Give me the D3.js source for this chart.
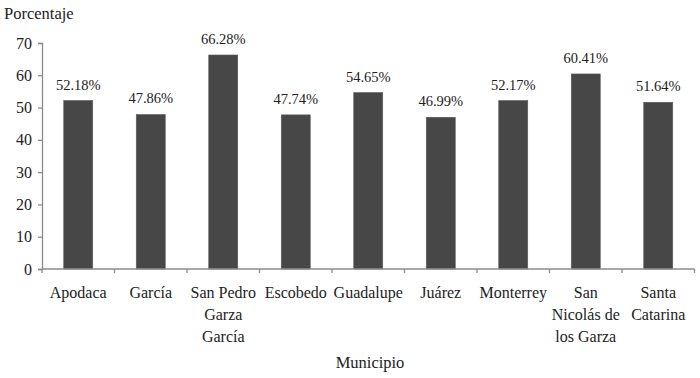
<!DOCTYPE html>
<html>
<head>
<meta charset="utf-8">
<script src="https://cdn.jsdelivr.net/npm/d3@7"></script>
<style>
  body { margin: 0; background: #fff; }
  svg text { font-family: "Liberation Serif", serif; fill: #222; }
</style>
</head>
<body>
<div id="chart"></div>
<script>
// data
const municipios = ["Apodaca", "García", "San Pedro Garza García", "Escobedo", "Guadalupe",
                    "Juárez", "Monterrey", "San Nicolás de los Garza", "Santa Catarina"];
const lineas = [["Apodaca"], ["García"], ["San Pedro", "Garza", "García"], ["Escobedo"], ["Guadalupe"],
                ["Juárez"], ["Monterrey"], ["San", "Nicolás de", "los Garza"], ["Santa", "Catarina"]];
const porcentajes = [52.18, 47.86, 66.28, 47.74, 54.65, 46.99, 52.17, 60.41, 51.64];
const yTicks = [0, 10, 20, 30, 40, 50, 60, 70];

const width = 700, height = 378;
const margin = { left: 42, right: 5, top: 43, bottom: 109 };

const svg = d3.select('#chart').append('svg')
    .attr('width', width)
    .attr('height', height);

const x = d3.scaleBand()
    .domain(municipios)
    .range([margin.left, width - margin.right - 0.5])
    .paddingInner(0.6)
    .paddingOuter(0.3);

const y = d3.scaleLinear()
    .domain([0, 70])
    .range([height - margin.bottom, margin.top]);

const axisColor = '#8c8c8c';

// y axis
const yAxis = svg.append('g')
    .attr('transform', `translate(${margin.left},0)`)
    .call(d3.axisLeft(y).tickValues(yTicks).tickSize(4).tickPadding(6));
yAxis.select('.domain').attr('stroke', axisColor).attr('stroke-width', 1.3);
yAxis.selectAll('.tick line').attr('stroke', axisColor).attr('stroke-width', 1.3);
yAxis.selectAll('.tick text')
    .style('font-size', '16px')
    .style('font-family', '"Liberation Serif", serif')
    .attr('fill', '#222');

// bars
svg.selectAll('rect.bar')
    .data(porcentajes)
    .join('rect')
    .attr('class', 'bar')
    .attr('x', (d, i) => x(municipios[i]))
    .attr('width', x.bandwidth())
    .attr('y', d => y(d))
    .attr('height', d => y(0) - y(d))
    .attr('fill', '#474747')
    .attr('stroke', '#5a5a5a')
    .attr('stroke-width', 0.6);

// value labels
svg.selectAll('text.val')
    .data(porcentajes)
    .join('text')
    .attr('class', 'val')
    .attr('x', (d, i) => x(municipios[i]) + x.bandwidth() / 2)
    .attr('y', d => y(d) - 11)
    .attr('text-anchor', 'middle')
    .style('font-size', '14.5px')
    .text(d => d.toFixed(2) + '%');

// x axis with category boundary ticks
const step = x.step();
const x0 = x(municipios[0]) - x.paddingOuter() * step;
const y0 = y(0);
svg.append('line')
    .attr('x1', x0).attr('x2', x0 + step * municipios.length)
    .attr('y1', y0).attr('y2', y0)
    .attr('stroke', axisColor).attr('stroke-width', 1.3);
svg.selectAll('line.xtick')
    .data(d3.range(municipios.length + 1))
    .join('line')
    .attr('class', 'xtick')
    .attr('x1', i => x0 + i * step).attr('x2', i => x0 + i * step)
    .attr('y1', y0).attr('y2', y0 + 4)
    .attr('stroke', axisColor).attr('stroke-width', 1.3);

const xLabels = svg.selectAll('text.cat')
    .data(municipios)
    .join('text')
    .attr('class', 'cat')
    .attr('text-anchor', 'middle')
    .style('font-size', '16px');
xLabels.each(function (d, i) {
    d3.select(this).selectAll('tspan')
        .data(lineas[i])
        .join('tspan')
        .attr('x', x(d) + x.bandwidth() / 2)
        .attr('y', (l, j) => y0 + 29 + j * 22)
        .text(l => l);
});

// axis titles
svg.append('text')
    .attr('x', 4).attr('y', 19)
    .style('font-size', '16.5px')
    .text('Porcentaje');

svg.append('text')
    .attr('x', 370).attr('y', 368)
    .attr('text-anchor', 'middle')
    .style('font-size', '16.5px')
    .text('Municipio');
</script>
</body>
</html>
